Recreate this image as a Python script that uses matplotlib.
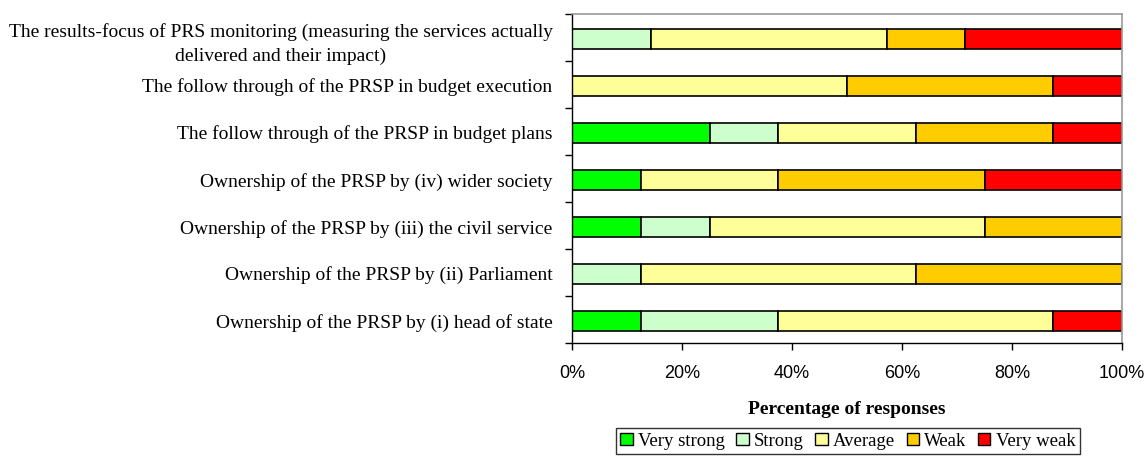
import numpy as np
import matplotlib.pyplot as plt
from matplotlib.patches import Patch

# categories listed bottom to top
categories = [
    "Ownership of the PRSP by (i) head of state",
    "Ownership of the PRSP by (ii) Parliament",
    "Ownership of the PRSP by (iii) the civil service",
    "Ownership of the PRSP by (iv) wider society",
    "The follow through of the PRSP in budget plans",
    "The follow through of the PRSP in budget execution",
    "The results-focus of PRS monitoring (measuring the services actually\ndelivered and their impact)",
]
series = ["Very strong", "Strong", "Average", "Weak", "Very weak"]
colors = ["#00ff00", "#ccffcc", "#ffff99", "#ffcc00", "#ff0000"]

very_strong = [12.5, 0.0, 12.5, 12.5, 25.0, 0.0, 0.0]
strong = [25.0, 12.5, 12.5, 0.0, 12.5, 0.0, 14.3]
average = [50.0, 50.0, 50.0, 25.0, 25.0, 50.0, 42.9]
weak = [0.0, 37.5, 25.0, 37.5, 25.0, 37.5, 14.3]
very_weak = [12.5, 0.0, 0.0, 25.0, 12.5, 12.5, 28.6]

values = [very_strong, strong, average, weak, very_weak]

plt.rcParams['font.family'] = ['Liberation Serif', 'DejaVu Serif']

fig = plt.figure(figsize=(11.47, 4.6), dpi=100)
ax = fig.add_axes([572 / 1147, 1 - 344 / 460, 550 / 1147, 329 / 460])

y = np.arange(len(categories))
left = np.zeros(len(categories))
for vals, col, name in zip(values, colors, series):
    ax.barh(y - 0.03, vals, left=left, height=0.43, color=col,
            edgecolor='black', linewidth=1.2, label=name)
    left += np.array(vals)

ax.set_xlim(0, 100)
ax.set_ylim(-0.5, len(categories) - 0.5)

ax.set_yticks(y)
ax.set_yticklabels(categories, fontsize=14, multialignment='center',
                   linespacing=1.5)
ax.tick_params(axis='y', length=0, pad=14)
ax.set_yticks(np.arange(-0.5, len(categories)), minor=True)
ax.tick_params(axis='y', which='minor', length=5, width=1, direction='out')

ax.set_xticks(np.arange(0, 101, 20))
ax.set_xticklabels([f"{v}%" for v in range(0, 101, 20)],
                   family='Liberation Sans', fontsize=13)
ax.tick_params(axis='x', length=5, width=1, direction='out', pad=10)
ax.set_xlabel("Percentage of responses", fontsize=14, fontweight='bold',
              labelpad=14)

for side in ['top', 'right']:
    ax.spines[side].set_color('#999999')
    ax.spines[side].set_linewidth(1.2)
for side in ['left', 'bottom']:
    ax.spines[side].set_color('black')
    ax.spines[side].set_linewidth(1)

handles = [Patch(facecolor=c, edgecolor='black', linewidth=1) for c in colors]
leg = fig.legend(handles, series, loc='center', ncol=5,
                 bbox_to_anchor=(848 / 1147, 1 - 442 / 460),
                 fontsize=13.5, frameon=True, fancybox=False,
                 handlelength=0.65, handleheight=0.65, handletextpad=0.3,
                 columnspacing=0.6, borderpad=0.25, borderaxespad=0)
leg.get_frame().set_edgecolor('black')
leg.get_frame().set_linewidth(1)

fig.savefig("out.png", dpi=100)
